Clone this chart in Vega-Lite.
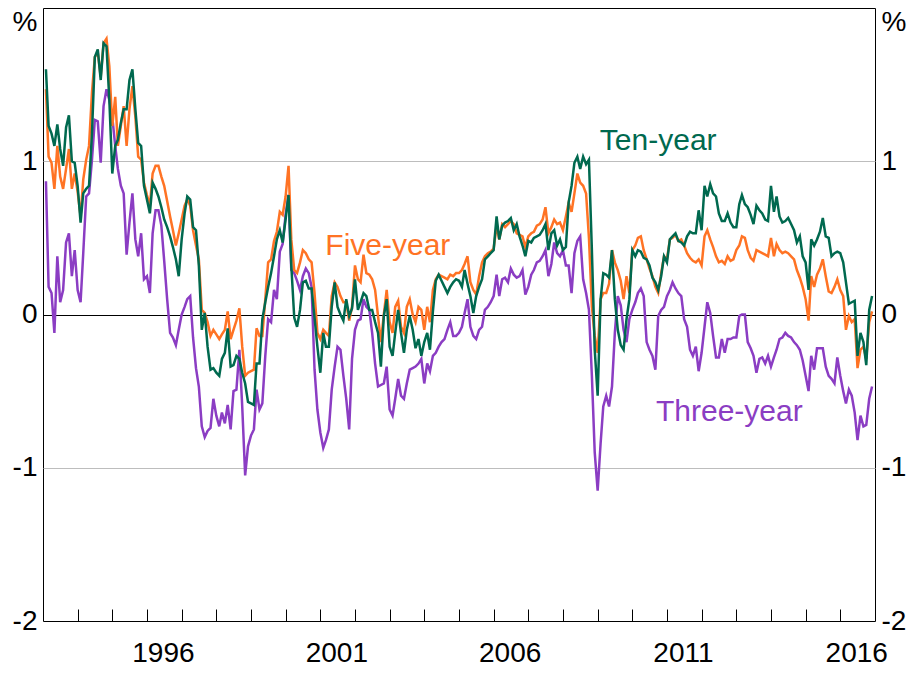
{
  "$schema": "https://vega.github.io/schema/vega-lite/v6.json",
  "width": 832,
  "height": 613,
  "autosize": "none",
  "padding": {"left": 43, "top": 8, "right": 37, "bottom": 54},
  "background": "white",
  "config": {
    "view": {"stroke": "#000000", "strokeWidth": 1},
    "font": "Liberation Sans",
    "axis": {"labelFont": "Liberation Sans", "labelColor": "#000000", "labelFontSize": 28, "title": null}
  },
  "datasets": {
    "yields": [
      {"d":"1993-02-01","Ten-year":1.60,"Five-year":1.47,"Three-year":0.87},
      {"d":"1993-03-01","Ten-year":1.23,"Five-year":1.03,"Three-year":0.18},
      {"d":"1993-04-01","Ten-year":1.18,"Five-year":0.99,"Three-year":0.14},
      {"d":"1993-05-01","Ten-year":1.10,"Five-year":0.82,"Three-year":-0.12},
      {"d":"1993-06-01","Ten-year":1.24,"Five-year":1.10,"Three-year":0.38},
      {"d":"1993-07-01","Ten-year":1.08,"Five-year":0.90,"Three-year":0.08},
      {"d":"1993-08-01","Ten-year":0.97,"Five-year":0.82,"Three-year":0.16},
      {"d":"1993-09-01","Ten-year":1.22,"Five-year":0.95,"Three-year":0.47},
      {"d":"1993-10-01","Ten-year":1.30,"Five-year":1.08,"Three-year":0.53},
      {"d":"1993-11-01","Ten-year":1.00,"Five-year":0.82,"Three-year":0.25},
      {"d":"1993-12-01","Ten-year":0.99,"Five-year":0.92,"Three-year":0.42},
      {"d":"1994-01-01","Ten-year":0.84,"Five-year":0.80,"Three-year":0.16},
      {"d":"1994-02-01","Ten-year":0.60,"Five-year":0.64,"Three-year":0.08},
      {"d":"1994-03-01","Ten-year":0.79,"Five-year":0.88,"Three-year":0.40},
      {"d":"1994-04-01","Ten-year":0.82,"Five-year":1.01,"Three-year":0.77},
      {"d":"1994-05-01","Ten-year":0.84,"Five-year":1.10,"Three-year":0.79},
      {"d":"1994-06-01","Ten-year":1.18,"Five-year":1.45,"Three-year":1.01},
      {"d":"1994-07-01","Ten-year":1.68,"Five-year":1.68,"Three-year":1.27},
      {"d":"1994-08-01","Ten-year":1.73,"Five-year":1.71,"Three-year":1.26},
      {"d":"1994-09-01","Ten-year":1.53,"Five-year":1.55,"Three-year":0.99},
      {"d":"1994-10-01","Ten-year":1.77,"Five-year":1.77,"Three-year":1.36},
      {"d":"1994-11-01","Ten-year":1.75,"Five-year":1.80,"Three-year":1.47},
      {"d":"1994-12-01","Ten-year":1.40,"Five-year":1.62,"Three-year":1.40},
      {"d":"1995-01-01","Ten-year":0.92,"Five-year":1.23,"Three-year":1.29},
      {"d":"1995-02-01","Ten-year":1.10,"Five-year":1.42,"Three-year":1.10},
      {"d":"1995-03-01","Ten-year":1.14,"Five-year":1.10,"Three-year":0.95},
      {"d":"1995-04-01","Ten-year":1.25,"Five-year":1.23,"Three-year":0.84},
      {"d":"1995-05-01","Ten-year":1.34,"Five-year":1.36,"Three-year":0.79},
      {"d":"1995-06-01","Ten-year":1.34,"Five-year":1.10,"Three-year":0.39},
      {"d":"1995-07-01","Ten-year":1.53,"Five-year":1.34,"Three-year":0.60},
      {"d":"1995-08-01","Ten-year":1.60,"Five-year":1.49,"Three-year":0.79},
      {"d":"1995-09-01","Ten-year":1.34,"Five-year":1.29,"Three-year":0.49},
      {"d":"1995-10-01","Ten-year":1.12,"Five-year":1.03,"Three-year":0.38},
      {"d":"1995-11-01","Ten-year":1.10,"Five-year":1.01,"Three-year":0.53},
      {"d":"1995-12-01","Ten-year":0.84,"Five-year":0.86,"Three-year":0.23},
      {"d":"1996-01-01","Ten-year":0.75,"Five-year":0.78,"Three-year":0.25},
      {"d":"1996-02-01","Ten-year":0.66,"Five-year":0.71,"Three-year":0.14},
      {"d":"1996-03-01","Ten-year":0.86,"Five-year":0.92,"Three-year":0.53},
      {"d":"1996-04-01","Ten-year":0.82,"Five-year":0.97,"Three-year":0.68},
      {"d":"1996-05-01","Ten-year":0.77,"Five-year":0.97,"Three-year":0.68},
      {"d":"1996-06-01","Ten-year":0.70,"Five-year":0.90,"Three-year":0.58},
      {"d":"1996-07-01","Ten-year":0.62,"Five-year":0.84,"Three-year":0.35},
      {"d":"1996-08-01","Ten-year":0.57,"Five-year":0.74,"Three-year":0.10},
      {"d":"1996-09-01","Ten-year":0.51,"Five-year":0.64,"Three-year":-0.12},
      {"d":"1996-10-01","Ten-year":0.44,"Five-year":0.55,"Three-year":-0.15},
      {"d":"1996-11-01","Ten-year":0.36,"Five-year":0.45,"Three-year":-0.20},
      {"d":"1996-12-01","Ten-year":0.25,"Five-year":0.53,"Three-year":-0.10},
      {"d":"1997-01-01","Ten-year":0.49,"Five-year":0.62,"Three-year":0.00},
      {"d":"1997-02-01","Ten-year":0.66,"Five-year":0.71,"Three-year":0.05},
      {"d":"1997-03-01","Ten-year":0.77,"Five-year":0.75,"Three-year":0.10},
      {"d":"1997-04-01","Ten-year":0.75,"Five-year":0.71,"Three-year":0.12},
      {"d":"1997-05-01","Ten-year":0.57,"Five-year":0.55,"Three-year":-0.15},
      {"d":"1997-06-01","Ten-year":0.55,"Five-year":0.45,"Three-year":-0.35},
      {"d":"1997-07-01","Ten-year":0.32,"Five-year":0.36,"Three-year":-0.47},
      {"d":"1997-08-01","Ten-year":-0.10,"Five-year":0.03,"Three-year":-0.73},
      {"d":"1997-09-01","Ten-year":0.01,"Five-year":0.01,"Three-year":-0.80},
      {"d":"1997-10-01","Ten-year":-0.21,"Five-year":-0.05,"Three-year":-0.76},
      {"d":"1997-11-01","Ten-year":-0.36,"Five-year":-0.14,"Three-year":-0.74},
      {"d":"1997-12-01","Ten-year":-0.35,"Five-year":-0.10,"Three-year":-0.55},
      {"d":"1998-01-01","Ten-year":-0.38,"Five-year":-0.13,"Three-year":-0.66},
      {"d":"1998-02-01","Ten-year":-0.40,"Five-year":-0.16,"Three-year":-0.73},
      {"d":"1998-03-01","Ten-year":-0.29,"Five-year":-0.13,"Three-year":-0.64},
      {"d":"1998-04-01","Ten-year":-0.25,"Five-year":-0.10,"Three-year":-0.71},
      {"d":"1998-05-01","Ten-year":-0.09,"Five-year":0.02,"Three-year":-0.59},
      {"d":"1998-06-01","Ten-year":-0.34,"Five-year":-0.16,"Three-year":-0.75},
      {"d":"1998-07-01","Ten-year":-0.33,"Five-year":-0.10,"Three-year":-0.50},
      {"d":"1998-08-01","Ten-year":-0.27,"Five-year":-0.04,"Three-year":-0.49},
      {"d":"1998-09-01","Ten-year":-0.29,"Five-year":0.04,"Three-year":-0.23},
      {"d":"1998-10-01","Ten-year":-0.38,"Five-year":-0.21,"Three-year":-0.60},
      {"d":"1998-11-01","Ten-year":-0.45,"Five-year":-0.40,"Three-year":-1.05},
      {"d":"1998-12-01","Ten-year":-0.57,"Five-year":-0.38,"Three-year":-0.86},
      {"d":"1999-01-01","Ten-year":-0.58,"Five-year":-0.37,"Three-year":-0.79},
      {"d":"1999-02-01","Ten-year":-0.59,"Five-year":-0.36,"Three-year":-0.75},
      {"d":"1999-03-01","Ten-year":-0.32,"Five-year":-0.09,"Three-year":-0.49},
      {"d":"1999-04-01","Ten-year":-0.32,"Five-year":-0.14,"Three-year":-0.62},
      {"d":"1999-05-01","Ten-year":-0.03,"Five-year":-0.14,"Three-year":-0.58},
      {"d":"1999-06-01","Ten-year":0.08,"Five-year":0.10,"Three-year":-0.27},
      {"d":"1999-07-01","Ten-year":0.18,"Five-year":0.34,"Three-year":-0.03},
      {"d":"1999-08-01","Ten-year":0.27,"Five-year":0.36,"Three-year":-0.05},
      {"d":"1999-09-01","Ten-year":0.38,"Five-year":0.48,"Three-year":0.16},
      {"d":"1999-10-01","Ten-year":0.49,"Five-year":0.54,"Three-year":0.10},
      {"d":"1999-11-01","Ten-year":0.55,"Five-year":0.67,"Three-year":0.41},
      {"d":"1999-12-01","Ten-year":0.47,"Five-year":0.65,"Three-year":0.46},
      {"d":"2000-01-01","Ten-year":0.62,"Five-year":0.77,"Three-year":0.65},
      {"d":"2000-02-01","Ten-year":0.78,"Five-year":0.97,"Three-year":0.78},
      {"d":"2000-03-01","Ten-year":0.32,"Five-year":0.49,"Three-year":0.29},
      {"d":"2000-04-01","Ten-year":-0.02,"Five-year":0.29,"Three-year":0.27},
      {"d":"2000-05-01","Ten-year":-0.08,"Five-year":0.27,"Three-year":0.22},
      {"d":"2000-06-01","Ten-year":0.03,"Five-year":0.34,"Three-year":0.16},
      {"d":"2000-07-01","Ten-year":0.21,"Five-year":0.42,"Three-year":0.25},
      {"d":"2000-08-01","Ten-year":0.22,"Five-year":0.40,"Three-year":0.30},
      {"d":"2000-09-01","Ten-year":0.17,"Five-year":0.36,"Three-year":0.27},
      {"d":"2000-10-01","Ten-year":0.17,"Five-year":0.34,"Three-year":0.18},
      {"d":"2000-11-01","Ten-year":-0.02,"Five-year":0.14,"Three-year":-0.36},
      {"d":"2000-12-01","Ten-year":-0.21,"Five-year":-0.12,"Three-year":-0.62},
      {"d":"2001-01-01","Ten-year":-0.38,"Five-year":-0.16,"Three-year":-0.77},
      {"d":"2001-02-01","Ten-year":-0.12,"Five-year":-0.10,"Three-year":-0.87},
      {"d":"2001-03-01","Ten-year":-0.21,"Five-year":-0.12,"Three-year":-0.82},
      {"d":"2001-04-01","Ten-year":-0.21,"Five-year":-0.14,"Three-year":-0.75},
      {"d":"2001-05-01","Ten-year":0.05,"Five-year":0.12,"Three-year":-0.49},
      {"d":"2001-06-01","Ten-year":0.21,"Five-year":0.21,"Three-year":-0.34},
      {"d":"2001-07-01","Ten-year":0.05,"Five-year":0.18,"Three-year":-0.21},
      {"d":"2001-08-01","Ten-year":0.00,"Five-year":0.12,"Three-year":-0.23},
      {"d":"2001-09-01","Ten-year":-0.04,"Five-year":0.08,"Three-year":-0.40},
      {"d":"2001-10-01","Ten-year":0.10,"Five-year":0.08,"Three-year":-0.55},
      {"d":"2001-11-01","Ten-year":-0.01,"Five-year":-0.04,"Three-year":-0.75},
      {"d":"2001-12-01","Ten-year":0.04,"Five-year":0.05,"Three-year":-0.29},
      {"d":"2002-01-01","Ten-year":0.23,"Five-year":0.32,"Three-year":-0.10},
      {"d":"2002-02-01","Ten-year":0.03,"Five-year":0.23,"Three-year":-0.04},
      {"d":"2002-03-01","Ten-year":0.08,"Five-year":0.21,"Three-year":-0.03},
      {"d":"2002-04-01","Ten-year":0.14,"Five-year":0.39,"Three-year":0.10},
      {"d":"2002-05-01","Ten-year":0.12,"Five-year":0.27,"Three-year":0.05},
      {"d":"2002-06-01","Ten-year":0.03,"Five-year":0.26,"Three-year":0.03},
      {"d":"2002-07-01","Ten-year":0.03,"Five-year":0.23,"Three-year":-0.12},
      {"d":"2002-08-01","Ten-year":-0.05,"Five-year":0.16,"Three-year":-0.32},
      {"d":"2002-09-01","Ten-year":-0.12,"Five-year":-0.01,"Three-year":-0.47},
      {"d":"2002-10-01","Ten-year":-0.34,"Five-year":-0.18,"Three-year":-0.46},
      {"d":"2002-11-01","Ten-year":-0.01,"Five-year":0.00,"Three-year":-0.45},
      {"d":"2002-12-01","Ten-year":0.10,"Five-year":0.16,"Three-year":-0.34},
      {"d":"2003-01-01","Ten-year":-0.21,"Five-year":-0.05,"Three-year":-0.62},
      {"d":"2003-02-01","Ten-year":-0.27,"Five-year":-0.12,"Three-year":-0.66},
      {"d":"2003-03-01","Ten-year":-0.12,"Five-year":0.05,"Three-year":-0.55},
      {"d":"2003-04-01","Ten-year":0.03,"Five-year":0.09,"Three-year":-0.42},
      {"d":"2003-05-01","Ten-year":-0.12,"Five-year":-0.08,"Three-year":-0.53},
      {"d":"2003-06-01","Ten-year":-0.25,"Five-year":-0.12,"Three-year":-0.55},
      {"d":"2003-07-01","Ten-year":-0.10,"Five-year":0.05,"Three-year":-0.45},
      {"d":"2003-08-01","Ten-year":-0.01,"Five-year":0.10,"Three-year":-0.36},
      {"d":"2003-09-01","Ten-year":-0.10,"Five-year":0.00,"Three-year":-0.35},
      {"d":"2003-10-01","Ten-year":-0.22,"Five-year":-0.05,"Three-year":-0.34},
      {"d":"2003-11-01","Ten-year":-0.16,"Five-year":0.05,"Three-year":-0.32},
      {"d":"2003-12-01","Ten-year":-0.27,"Five-year":0.03,"Three-year":-0.29},
      {"d":"2004-01-01","Ten-year":-0.18,"Five-year":-0.10,"Three-year":-0.45},
      {"d":"2004-02-01","Ten-year":-0.12,"Five-year":0.05,"Three-year":-0.32},
      {"d":"2004-03-01","Ten-year":-0.23,"Five-year":-0.05,"Three-year":-0.37},
      {"d":"2004-04-01","Ten-year":0.02,"Five-year":0.16,"Three-year":-0.27},
      {"d":"2004-05-01","Ten-year":0.22,"Five-year":0.23,"Three-year":-0.25},
      {"d":"2004-06-01","Ten-year":0.26,"Five-year":0.26,"Three-year":-0.21},
      {"d":"2004-07-01","Ten-year":0.22,"Five-year":0.25,"Three-year":-0.18},
      {"d":"2004-08-01","Ten-year":0.18,"Five-year":0.24,"Three-year":-0.16},
      {"d":"2004-09-01","Ten-year":0.14,"Five-year":0.23,"Three-year":-0.10},
      {"d":"2004-10-01","Ten-year":0.18,"Five-year":0.26,"Three-year":-0.05},
      {"d":"2004-11-01","Ten-year":0.21,"Five-year":0.25,"Three-year":-0.14},
      {"d":"2004-12-01","Ten-year":0.23,"Five-year":0.27,"Three-year":-0.14},
      {"d":"2005-01-01","Ten-year":0.22,"Five-year":0.27,"Three-year":-0.12},
      {"d":"2005-02-01","Ten-year":0.18,"Five-year":0.29,"Three-year":-0.08},
      {"d":"2005-03-01","Ten-year":0.29,"Five-year":0.33,"Three-year":0.01},
      {"d":"2005-04-01","Ten-year":0.20,"Five-year":0.38,"Three-year":0.10},
      {"d":"2005-05-01","Ten-year":0.12,"Five-year":0.21,"Three-year":-0.08},
      {"d":"2005-06-01","Ten-year":0.01,"Five-year":0.16,"Three-year":-0.14},
      {"d":"2005-07-01","Ten-year":0.12,"Five-year":0.13,"Three-year":-0.16},
      {"d":"2005-08-01","Ten-year":0.18,"Five-year":0.25,"Three-year":-0.10},
      {"d":"2005-09-01","Ten-year":0.23,"Five-year":0.34,"Three-year":-0.08},
      {"d":"2005-10-01","Ten-year":0.36,"Five-year":0.38,"Three-year":0.03},
      {"d":"2005-11-01","Ten-year":0.38,"Five-year":0.40,"Three-year":0.05},
      {"d":"2005-12-01","Ten-year":0.40,"Five-year":0.41,"Three-year":0.08},
      {"d":"2006-01-01","Ten-year":0.42,"Five-year":0.43,"Three-year":0.12},
      {"d":"2006-02-01","Ten-year":0.64,"Five-year":0.58,"Three-year":0.26},
      {"d":"2006-03-01","Ten-year":0.49,"Five-year":0.49,"Three-year":0.12},
      {"d":"2006-04-01","Ten-year":0.58,"Five-year":0.59,"Three-year":0.23},
      {"d":"2006-05-01","Ten-year":0.60,"Five-year":0.57,"Three-year":0.24},
      {"d":"2006-06-01","Ten-year":0.61,"Five-year":0.59,"Three-year":0.21},
      {"d":"2006-07-01","Ten-year":0.63,"Five-year":0.61,"Three-year":0.30},
      {"d":"2006-08-01","Ten-year":0.55,"Five-year":0.59,"Three-year":0.26},
      {"d":"2006-09-01","Ten-year":0.59,"Five-year":0.53,"Three-year":0.24},
      {"d":"2006-10-01","Ten-year":0.51,"Five-year":0.52,"Three-year":0.25},
      {"d":"2006-11-01","Ten-year":0.45,"Five-year":0.51,"Three-year":0.29},
      {"d":"2006-12-01","Ten-year":0.38,"Five-year":0.44,"Three-year":0.13},
      {"d":"2007-01-01","Ten-year":0.48,"Five-year":0.51,"Three-year":0.18},
      {"d":"2007-02-01","Ten-year":0.47,"Five-year":0.53,"Three-year":0.26},
      {"d":"2007-03-01","Ten-year":0.50,"Five-year":0.54,"Three-year":0.29},
      {"d":"2007-04-01","Ten-year":0.51,"Five-year":0.58,"Three-year":0.34},
      {"d":"2007-05-01","Ten-year":0.52,"Five-year":0.59,"Three-year":0.35},
      {"d":"2007-06-01","Ten-year":0.55,"Five-year":0.62,"Three-year":0.38},
      {"d":"2007-07-01","Ten-year":0.59,"Five-year":0.70,"Three-year":0.42},
      {"d":"2007-08-01","Ten-year":0.42,"Five-year":0.53,"Three-year":0.25},
      {"d":"2007-09-01","Ten-year":0.53,"Five-year":0.57,"Three-year":0.33},
      {"d":"2007-10-01","Ten-year":0.55,"Five-year":0.62,"Three-year":0.47},
      {"d":"2007-11-01","Ten-year":0.45,"Five-year":0.59,"Three-year":0.40},
      {"d":"2007-12-01","Ten-year":0.49,"Five-year":0.60,"Three-year":0.38},
      {"d":"2008-01-01","Ten-year":0.42,"Five-year":0.55,"Three-year":0.42},
      {"d":"2008-02-01","Ten-year":0.44,"Five-year":0.64,"Three-year":0.32},
      {"d":"2008-03-01","Ten-year":0.73,"Five-year":0.73,"Three-year":0.32},
      {"d":"2008-04-01","Ten-year":0.84,"Five-year":0.67,"Three-year":0.14},
      {"d":"2008-05-01","Ten-year":0.99,"Five-year":0.79,"Three-year":0.40},
      {"d":"2008-06-01","Ten-year":1.03,"Five-year":0.92,"Three-year":0.48},
      {"d":"2008-07-01","Ten-year":0.95,"Five-year":0.86,"Three-year":0.51},
      {"d":"2008-08-01","Ten-year":1.03,"Five-year":0.84,"Three-year":0.23},
      {"d":"2008-09-01","Ten-year":0.98,"Five-year":0.79,"Three-year":0.14},
      {"d":"2008-10-01","Ten-year":1.01,"Five-year":0.50,"Three-year":0.03},
      {"d":"2008-11-01","Ten-year":0.42,"Five-year":0.05,"Three-year":-0.40},
      {"d":"2008-12-01","Ten-year":-0.23,"Five-year":-0.14,"Three-year":-0.90},
      {"d":"2009-01-01","Ten-year":-0.53,"Five-year":-0.25,"Three-year":-1.15},
      {"d":"2009-02-01","Ten-year":0.10,"Five-year":0.10,"Three-year":-0.84},
      {"d":"2009-03-01","Ten-year":0.27,"Five-year":0.14,"Three-year":-0.60},
      {"d":"2009-04-01","Ten-year":0.26,"Five-year":0.14,"Three-year":-0.53},
      {"d":"2009-05-01","Ten-year":0.24,"Five-year":0.20,"Three-year":-0.60},
      {"d":"2009-06-01","Ten-year":0.42,"Five-year":0.42,"Three-year":-0.47},
      {"d":"2009-07-01","Ten-year":0.10,"Five-year":0.34,"Three-year":-0.12},
      {"d":"2009-08-01","Ten-year":-0.10,"Five-year":0.29,"Three-year":0.12},
      {"d":"2009-09-01","Ten-year":-0.20,"Five-year":0.22,"Three-year":0.06},
      {"d":"2009-10-01","Ten-year":-0.23,"Five-year":0.10,"Three-year":-0.10},
      {"d":"2009-11-01","Ten-year":-0.03,"Five-year":0.25,"Three-year":-0.18},
      {"d":"2009-12-01","Ten-year":0.10,"Five-year":0.14,"Three-year":-0.03},
      {"d":"2010-01-01","Ten-year":0.42,"Five-year":0.42,"Three-year":0.03},
      {"d":"2010-02-01","Ten-year":0.38,"Five-year":0.45,"Three-year":0.08},
      {"d":"2010-03-01","Ten-year":0.42,"Five-year":0.50,"Three-year":0.14},
      {"d":"2010-04-01","Ten-year":0.41,"Five-year":0.51,"Three-year":0.17},
      {"d":"2010-05-01","Ten-year":0.37,"Five-year":0.42,"Three-year":0.12},
      {"d":"2010-06-01","Ten-year":0.36,"Five-year":0.36,"Three-year":-0.18},
      {"d":"2010-07-01","Ten-year":0.32,"Five-year":0.30,"Three-year":-0.23},
      {"d":"2010-08-01","Ten-year":0.24,"Five-year":0.25,"Three-year":-0.27},
      {"d":"2010-09-01","Ten-year":0.21,"Five-year":0.18,"Three-year":-0.36},
      {"d":"2010-10-01","Ten-year":0.16,"Five-year":0.14,"Three-year":-0.01},
      {"d":"2010-11-01","Ten-year":0.25,"Five-year":0.27,"Three-year":0.03},
      {"d":"2010-12-01","Ten-year":0.38,"Five-year":0.38,"Three-year":0.05},
      {"d":"2011-01-01","Ten-year":0.34,"Five-year":0.36,"Three-year":0.12},
      {"d":"2011-02-01","Ten-year":0.49,"Five-year":0.49,"Three-year":0.16},
      {"d":"2011-03-01","Ten-year":0.51,"Five-year":0.50,"Three-year":0.21},
      {"d":"2011-04-01","Ten-year":0.53,"Five-year":0.52,"Three-year":0.17},
      {"d":"2011-05-01","Ten-year":0.48,"Five-year":0.48,"Three-year":0.14},
      {"d":"2011-06-01","Ten-year":0.47,"Five-year":0.49,"Three-year":0.12},
      {"d":"2011-07-01","Ten-year":0.45,"Five-year":0.45,"Three-year":-0.03},
      {"d":"2011-08-01","Ten-year":0.51,"Five-year":0.40,"Three-year":-0.08},
      {"d":"2011-09-01","Ten-year":0.54,"Five-year":0.37,"Three-year":-0.23},
      {"d":"2011-10-01","Ten-year":0.53,"Five-year":0.35,"Three-year":-0.27},
      {"d":"2011-11-01","Ten-year":0.53,"Five-year":0.34,"Three-year":-0.21},
      {"d":"2011-12-01","Ten-year":0.68,"Five-year":0.36,"Three-year":-0.37},
      {"d":"2012-01-01","Ten-year":0.55,"Five-year":0.32,"Three-year":-0.25},
      {"d":"2012-02-01","Ten-year":0.84,"Five-year":0.51,"Three-year":-0.08},
      {"d":"2012-03-01","Ten-year":0.77,"Five-year":0.55,"Three-year":0.08},
      {"d":"2012-04-01","Ten-year":0.85,"Five-year":0.49,"Three-year":0.01},
      {"d":"2012-05-01","Ten-year":0.79,"Five-year":0.44,"Three-year":-0.14},
      {"d":"2012-06-01","Ten-year":0.77,"Five-year":0.38,"Three-year":-0.28},
      {"d":"2012-07-01","Ten-year":0.66,"Five-year":0.34,"Three-year":-0.28},
      {"d":"2012-08-01","Ten-year":0.61,"Five-year":0.35,"Three-year":-0.16},
      {"d":"2012-09-01","Ten-year":0.61,"Five-year":0.33,"Three-year":-0.25},
      {"d":"2012-10-01","Ten-year":0.66,"Five-year":0.38,"Three-year":-0.16},
      {"d":"2012-11-01","Ten-year":0.60,"Five-year":0.35,"Three-year":-0.16},
      {"d":"2012-12-01","Ten-year":0.57,"Five-year":0.36,"Three-year":-0.15},
      {"d":"2013-01-01","Ten-year":0.57,"Five-year":0.42,"Three-year":-0.15},
      {"d":"2013-02-01","Ten-year":0.72,"Five-year":0.45,"Three-year":-0.01},
      {"d":"2013-03-01","Ten-year":0.78,"Five-year":0.51,"Three-year":0.00},
      {"d":"2013-04-01","Ten-year":0.72,"Five-year":0.50,"Three-year":0.00},
      {"d":"2013-05-01","Ten-year":0.70,"Five-year":0.42,"Three-year":-0.18},
      {"d":"2013-06-01","Ten-year":0.65,"Five-year":0.37,"Three-year":-0.22},
      {"d":"2013-07-01","Ten-year":0.59,"Five-year":0.35,"Three-year":-0.27},
      {"d":"2013-08-01","Ten-year":0.71,"Five-year":0.42,"Three-year":-0.38},
      {"d":"2013-09-01","Ten-year":0.68,"Five-year":0.41,"Three-year":-0.29},
      {"d":"2013-10-01","Ten-year":0.66,"Five-year":0.40,"Three-year":-0.28},
      {"d":"2013-11-01","Ten-year":0.62,"Five-year":0.39,"Three-year":-0.32},
      {"d":"2013-12-01","Ten-year":0.61,"Five-year":0.38,"Three-year":-0.27},
      {"d":"2014-01-01","Ten-year":0.84,"Five-year":0.50,"Three-year":-0.34},
      {"d":"2014-02-01","Ten-year":0.67,"Five-year":0.38,"Three-year":-0.28},
      {"d":"2014-03-01","Ten-year":0.77,"Five-year":0.46,"Three-year":-0.23},
      {"d":"2014-04-01","Ten-year":0.64,"Five-year":0.42,"Three-year":-0.16},
      {"d":"2014-05-01","Ten-year":0.60,"Five-year":0.40,"Three-year":-0.15},
      {"d":"2014-06-01","Ten-year":0.61,"Five-year":0.41,"Three-year":-0.12},
      {"d":"2014-07-01","Ten-year":0.63,"Five-year":0.40,"Three-year":-0.14},
      {"d":"2014-08-01","Ten-year":0.59,"Five-year":0.38,"Three-year":-0.15},
      {"d":"2014-09-01","Ten-year":0.55,"Five-year":0.36,"Three-year":-0.18},
      {"d":"2014-10-01","Ten-year":0.47,"Five-year":0.29,"Three-year":-0.20},
      {"d":"2014-11-01","Ten-year":0.51,"Five-year":0.24,"Three-year":-0.23},
      {"d":"2014-12-01","Ten-year":0.38,"Five-year":0.18,"Three-year":-0.30},
      {"d":"2015-01-01","Ten-year":0.34,"Five-year":0.10,"Three-year":-0.40},
      {"d":"2015-02-01","Ten-year":0.16,"Five-year":-0.04,"Three-year":-0.50},
      {"d":"2015-03-01","Ten-year":0.49,"Five-year":0.25,"Three-year":-0.27},
      {"d":"2015-04-01","Ten-year":0.45,"Five-year":0.18,"Three-year":-0.36},
      {"d":"2015-05-01","Ten-year":0.49,"Five-year":0.26,"Three-year":-0.22},
      {"d":"2015-06-01","Ten-year":0.54,"Five-year":0.30,"Three-year":-0.22},
      {"d":"2015-07-01","Ten-year":0.63,"Five-year":0.36,"Three-year":-0.22},
      {"d":"2015-08-01","Ten-year":0.51,"Five-year":0.25,"Three-year":-0.34},
      {"d":"2015-09-01","Ten-year":0.50,"Five-year":0.15,"Three-year":-0.40},
      {"d":"2015-10-01","Ten-year":0.38,"Five-year":0.14,"Three-year":-0.42},
      {"d":"2015-11-01","Ten-year":0.40,"Five-year":0.18,"Three-year":-0.45},
      {"d":"2015-12-01","Ten-year":0.41,"Five-year":0.23,"Three-year":-0.28},
      {"d":"2016-01-01","Ten-year":0.40,"Five-year":0.16,"Three-year":-0.40},
      {"d":"2016-02-01","Ten-year":0.34,"Five-year":0.12,"Three-year":-0.50},
      {"d":"2016-03-01","Ten-year":0.21,"Five-year":-0.10,"Three-year":-0.58},
      {"d":"2016-04-01","Ten-year":0.07,"Five-year":-0.01,"Three-year":-0.49},
      {"d":"2016-05-01","Ten-year":0.08,"Five-year":-0.05,"Three-year":-0.53},
      {"d":"2016-06-01","Ten-year":0.09,"Five-year":-0.03,"Three-year":-0.64},
      {"d":"2016-07-01","Ten-year":-0.27,"Five-year":-0.35,"Three-year":-0.82},
      {"d":"2016-08-01","Ten-year":-0.12,"Five-year":-0.23,"Three-year":-0.66},
      {"d":"2016-09-01","Ten-year":-0.18,"Five-year":-0.21,"Three-year":-0.73},
      {"d":"2016-10-01","Ten-year":-0.33,"Five-year":-0.29,"Three-year":-0.72},
      {"d":"2016-11-01","Ten-year":0.03,"Five-year":-0.05,"Three-year":-0.55},
      {"d":"2016-12-01","Ten-year":0.12,"Five-year":0.02,"Three-year":-0.47}
    ],
    "labels": [
      {"d":"2010-10-01","v":1.076,"s":"Ten-year"},
      {"d":"2002-12-13","v":0.389,"s":"Five-year"},
      {"d":"2012-10-19","v":-0.696,"s":"Three-year"}
    ]
  },
  "layer": [
    {
      "data": {"name": "yields"},
      "transform": [{"fold": ["Three-year", "Five-year", "Ten-year"], "as": ["s", "v"]}],
      "mark": {"type": "line", "strokeWidth": 2.5, "clip": true},
      "encoding": {
        "x": {
          "field": "d", "type": "temporal",
          "scale": {"type": "utc", "domain": [{"year": 1993, "month": 1, "date": 1, "utc": true}, {"year": 2017, "month": 1, "date": 1, "utc": true}]},
          "axis": {
            "values": [
              {"year":1994,"month":1,"date":1,"utc":true},{"year":1995,"month":1,"date":1,"utc":true},{"year":1996,"month":1,"date":1,"utc":true},
              {"year":1997,"month":1,"date":1,"utc":true},{"year":1998,"month":1,"date":1,"utc":true},{"year":1999,"month":1,"date":1,"utc":true},
              {"year":2000,"month":1,"date":1,"utc":true},{"year":2001,"month":1,"date":1,"utc":true},{"year":2002,"month":1,"date":1,"utc":true},
              {"year":2003,"month":1,"date":1,"utc":true},{"year":2004,"month":1,"date":1,"utc":true},{"year":2005,"month":1,"date":1,"utc":true},
              {"year":2006,"month":1,"date":1,"utc":true},{"year":2007,"month":1,"date":1,"utc":true},{"year":2008,"month":1,"date":1,"utc":true},
              {"year":2009,"month":1,"date":1,"utc":true},{"year":2010,"month":1,"date":1,"utc":true},{"year":2011,"month":1,"date":1,"utc":true},
              {"year":2012,"month":1,"date":1,"utc":true},{"year":2013,"month":1,"date":1,"utc":true},{"year":2014,"month":1,"date":1,"utc":true},
              {"year":2015,"month":1,"date":1,"utc":true},{"year":2016,"month":1,"date":1,"utc":true}
            ],
            "labelExpr": "(utcyear(datum.value) - 1996) % 5 == 0 ? '' + utcyear(datum.value) : ''",
            "labelOffset": 16,
            "tickSize": -12,
            "tickColor": "#000000",
            "tickWidth": 1,
            "labelPadding": 30,
            "domain": false,
            "grid": false,
            "title": null,
            "labelOverlap": false,
            "labelFlush": false,
            "labelBound": false
          }
        },
        "y": {
          "field": "v", "type": "quantitative",
          "scale": {"domain": [-2, 2], "nice": false, "zero": false},
          "axis": {
            "orient": "left",
            "values": [-2, -1, 0, 1, 2],
            "labelExpr": "datum.value == 2 ? '%' : '' + datum.value",
            "labelPadding": 6,
            "ticks": false,
            "domain": false,
            "grid": true,
            "gridColor": {"condition": {"test": "datum.value == 0", "value": "#000000"}, "value": "#BDBDBD"},
            "gridOpacity": {"condition": {"test": "abs(datum.value) == 2", "value": 0}, "value": 1},
            "gridWidth": 1,
            "labelBaseline": {"condition": {"test": "datum.value == 2", "value": "top"}, "value": "middle"},
            "labelFlush": false,
            "labelOverlap": false,
            "title": null
          }
        },
        "color": {
          "field": "s", "type": "nominal",
          "scale": {"domain": ["Ten-year", "Five-year", "Three-year"], "range": ["#00694F", "#FF7324", "#8B3DC3"]},
          "legend": null
        }
      }
    },
    {
      "data": {"name": "labels"},
      "mark": {"type": "text", "font": "Liberation Sans", "fontSize": 30, "align": "center", "baseline": "alphabetic"},
      "encoding": {
        "x": {"field": "d", "type": "temporal", "axis": null},
        "y": {
          "field": "v", "type": "quantitative",
          "axis": {
            "orient": "right",
            "values": [-2, -1, 0, 1, 2],
            "labelExpr": "datum.value == 2 ? '%' : '' + datum.value",
            "labelPadding": 6,
            "ticks": false,
            "domain": false,
            "grid": false,
            "labelBaseline": {"condition": {"test": "datum.value == 2", "value": "top"}, "value": "middle"},
            "labelFlush": false,
            "labelOverlap": false,
            "title": null
          }
        },
        "text": {"field": "s"},
        "color": {"field": "s", "type": "nominal", "legend": null}
      }
    }
  ],
  "resolve": {"axis": {"x": "independent", "y": "independent"}}
}
